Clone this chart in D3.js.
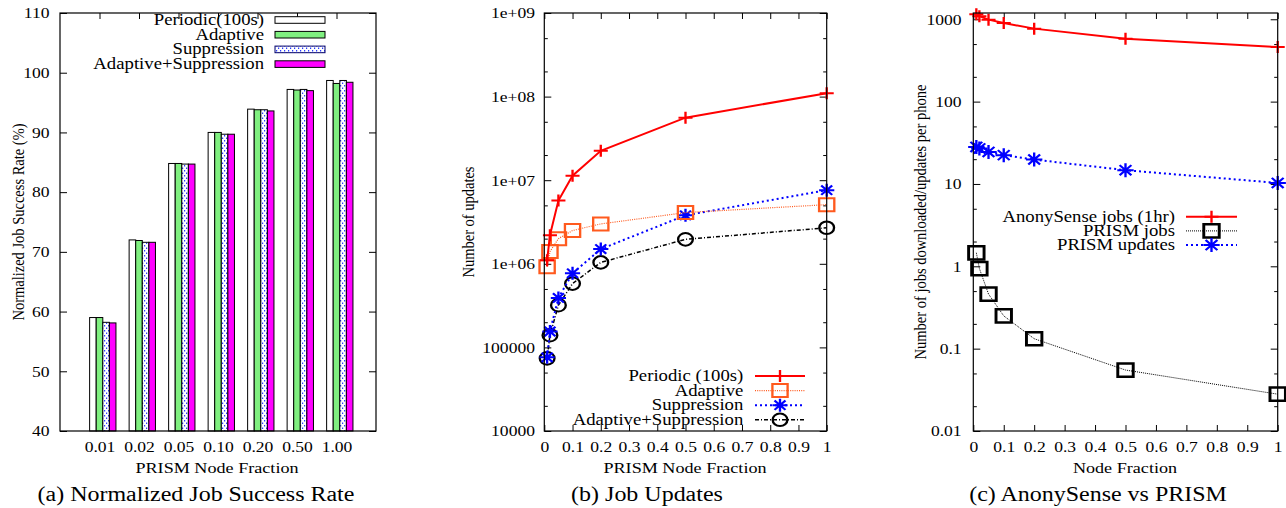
<!DOCTYPE html>
<html>
<head>
<meta charset="utf-8">
<script src="https://cdn.jsdelivr.net/npm/d3@7"></script>
<style>
  body { margin: 0; background: #fff; }
  svg { font-family: "Liberation Serif", "Times New Roman", serif; }
</style>
</head>
<body>
<div id="chart"></div>
<script>
// Node fractions (shared x values)
var fractions = [0.01, 0.02, 0.05, 0.1, 0.2, 0.5, 1.0];
var fractionLabels = ["0.01", "0.02", "0.05", "0.10", "0.20", "0.50", "1.00"];

// (a) Normalized job success rate (%)
var rateSeries = ["Periodic(100s)", "Adaptive", "Suppression", "Adaptive+Suppression"];
var ratePeriodic = [59.0, 72.0, 84.8, 90.0, 93.9, 97.2, 98.7];
var rateAdaptive = [59.0, 71.9, 84.8, 90.0, 93.8, 97.1, 98.2];
var rateSuppression = [58.2, 71.6, 84.7, 89.7, 93.8, 97.2, 98.7];
var rateAdaptSupp = [58.1, 71.6, 84.7, 89.7, 93.6, 97.0, 98.4];

// (b) Number of updates
var updPeriodic = [1.1e6, 2.2e6, 5.7e6, 1.13e7, 2.25e7, 5.6e7, 1.1e8];
var updAdaptive = [9.2e5, 1.4e6, 2.0e6, 2.5e6, 3.0e6, 4.1e6, 5.1e6];
var updSuppression = [7.6e4, 1.55e5, 3.9e5, 7.7e5, 1.5e6, 3.8e6, 7.6e6];
var updAdaptSupp = [7.4e4, 1.4e5, 3.2e5, 5.8e5, 1.04e6, 1.96e6, 2.7e6];
var updTicks = [1e4, 1e5, 1e6, 1e7, 1e8, 1e9];
var updTickLabels = ["10000", "100000", "1e+06", "1e+07", "1e+08", "1e+09"];

// (c) Jobs / updates per phone
var anonyJobs = [1150, 1090, 990, 900, 770, 580, 460];
var prismJobs = [1.46, 0.94, 0.46, 0.25, 0.132, 0.055, 0.028];
var prismUpdates = [28.2, 27, 24.5, 22.4, 19.8, 14.7, 10.3];
var perPhoneTicks = [0.01, 0.1, 1, 10, 100, 1000];
var perPhoneTickLabels = ["0.01", "0.1", "1", "10", "100", "1000"];

var xTicks = [0, 0.1, 0.2, 0.3, 0.4, 0.5, 0.6, 0.7, 0.8, 0.9, 1];

// Chart size
var width = 1286;
var height = 508;
var top0 = 13, bottom0 = 431;
var SX = 1.17; // the original figure is stretched horizontally

var svg = d3.select("#chart")
  .append("svg")
  .attr("width", width)
  .attr("height", height);

// dotted fill for the "Suppression" bars
var defs = svg.append("defs");
var pat = defs.append("pattern")
  .attr("id", "dots")
  .attr("patternUnits", "userSpaceOnUse")
  .attr("width", 4)
  .attr("height", 5);
pat.append("rect").attr("width", 4).attr("height", 5).attr("fill", "#fff");
pat.append("rect").attr("x", 0).attr("y", 0).attr("width", 1.2).attr("height", 1.5).attr("fill", "#2a3cff");
pat.append("rect").attr("x", 2).attr("y", 2.5).attr("width", 1.2).attr("height", 1.5).attr("fill", "#2a3cff");

// Helpers
function addText(x, y, s, size, anchor) {
  return svg.append("text")
    .attr("transform", "translate(" + x + "," + y + ") scale(" + SX + ",1)")
    .attr("text-anchor", anchor || "middle")
    .attr("font-size", size)
    .text(s);
}

function yTitle(x, s) {
  svg.append("text")
    .attr("transform", "translate(" + x + ",222) scale(" + SX + ",1) rotate(-90)")
    .attr("text-anchor", "middle")
    .attr("dy", "0.35em")
    .attr("font-size", 14.5)
    .text(s);
}

function styleAxis(g, pad) {
  g.select(".domain").remove();
  g.selectAll(".tick line").attr("stroke", "#000");
  g.selectAll(".tick text")
    .attr("font-size", 15)
    .attr("fill", "#000")
    .attr("font-family", "Liberation Serif, serif")
    .attr("transform", "scale(" + SX + ",1)");
}

function frame(x0, x1) {
  svg.append("rect")
    .attr("x", x0).attr("y", top0)
    .attr("width", x1 - x0).attr("height", bottom0 - top0)
    .attr("fill", "none").attr("stroke", "#000").attr("stroke-width", 1.2);
}

function markerPath(type, r) {
  var plus = "M" + (-r) + ",0H" + r + "M0," + (-r) + "V" + r;
  if (type === "plus") return plus;
  if (type === "star") {
    var d = r * 0.72;
    return plus + "M" + (-d) + "," + (-d) + "L" + d + "," + d + "M" + (-d) + "," + d + "L" + d + "," + (-d);
  }
  if (type === "square") return "M" + (-r) + "," + (-r) + "H" + r + "V" + r + "H" + (-r) + "Z";
  return "M" + (-r) + ",0A" + r + "," + r + " 0 1,0 " + r + ",0A" + r + "," + r + " 0 1,0 " + (-r) + ",0";
}

function drawMarker(x, y, st) {
  svg.append("path")
    .attr("d", markerPath(st.marker, st.size))
    .attr("transform", "translate(" + x + "," + y + ") scale(" + SX + ",1)")
    .attr("fill", "none")
    .attr("stroke", st.color)
    .attr("stroke-width", st.mwidth || 2);
}

function drawSeries(x, y, vals, st) {
  var pts = fractions.map(function (f, i) { return [x(f), y(vals[i])]; });
  svg.append("path")
    .attr("d", d3.line()(pts))
    .attr("fill", "none")
    .attr("stroke", st.color)
    .attr("stroke-width", st.width)
    .attr("stroke-dasharray", st.dash);
  pts.forEach(function (p) { drawMarker(p[0], p[1], st); });
}

function lineLegend(textX, lx0, lx1, y0, step, items) {
  items.forEach(function (it, i) {
    var y = y0 + i * step;
    addText(textX, y + 5, it.name, 16, "end");
    svg.append("line")
      .attr("x1", lx0).attr("x2", lx1).attr("y1", y).attr("y2", y)
      .attr("stroke", it.st.color)
      .attr("stroke-width", it.st.width)
      .attr("stroke-dasharray", it.st.dash);
    drawMarker((lx0 + lx1) / 2, y, it.st);
  });
}

function logAxes(x, y, x0, x1, minor, ticks, labels, pad) {
  var gl = svg.append("g").attr("transform", "translate(" + x0 + ",0)")
    .call(d3.axisLeft(y).tickValues(ticks).tickSize(-7).tickPadding(pad)
      .tickFormat(function (d, i) { return labels[i]; }));
  styleAxis(gl);
  var gr = svg.append("g").attr("transform", "translate(" + x1 + ",0)")
    .call(d3.axisRight(y).tickValues(ticks).tickSize(-7).tickFormat(""));
  styleAxis(gr);
  [x0, x1].forEach(function (xx, k) {
    var ax = k === 0 ? d3.axisLeft(y) : d3.axisRight(y);
    var gm = svg.append("g").attr("transform", "translate(" + xx + ",0)")
      .call(ax.tickValues(minor).tickSize(-3.5).tickFormat(""));
    styleAxis(gm);
  });
  var gb = svg.append("g").attr("transform", "translate(0," + bottom0 + ")")
    .call(d3.axisBottom(x).tickValues(xTicks).tickSize(-6).tickPadding(10).tickFormat(d3.format("")));
  styleAxis(gb);
  var gt = svg.append("g").attr("transform", "translate(0," + top0 + ")")
    .call(d3.axisTop(x).tickValues(xTicks).tickSize(-6).tickFormat(""));
  styleAxis(gt);
}

// ---------- Panel (a) ----------
var xA = d3.scaleLinear().domain([-1, 7]).range([60, 376]);
var yA = d3.scaleLinear().domain([40, 110]).range([bottom0, top0]);
var barW = (xA(1) - xA(0)) / 6;
var idx = d3.range(fractions.length);

var gAL = svg.append("g").attr("transform", "translate(60,0)")
  .call(d3.axisLeft(yA).tickValues(d3.range(40, 111, 10)).tickSize(-7).tickPadding(9));
styleAxis(gAL);
var gAR = svg.append("g").attr("transform", "translate(376,0)")
  .call(d3.axisRight(yA).tickValues(d3.range(40, 111, 10)).tickSize(-7).tickFormat(""));
styleAxis(gAR);
var gAB = svg.append("g").attr("transform", "translate(0," + bottom0 + ")")
  .call(d3.axisBottom(xA).tickValues(idx).tickSize(-6).tickPadding(10)
    .tickFormat(function (d) { return fractionLabels[d]; }));
styleAxis(gAB);
var gAT = svg.append("g").attr("transform", "translate(0," + top0 + ")")
  .call(d3.axisTop(xA).tickValues(idx).tickSize(-6).tickFormat(""));
styleAxis(gAT);

var barFills = ["#ffffff", "#80f080", "url(#dots)", "#ff00ff"];
[ratePeriodic, rateAdaptive, rateSuppression, rateAdaptSupp].forEach(function (vals, j) {
  svg.selectAll(null)
    .data(vals)
    .enter()
    .append("rect")
    .attr("x", function (d, i) { return xA(i) + (j - 1.5) * barW; })
    .attr("y", function (d) { return yA(d); })
    .attr("width", barW)
    .attr("height", function (d) { return bottom0 - yA(d); })
    .attr("fill", barFills[j])
    .attr("stroke", "#000")
    .attr("stroke-width", 1);
});

// legend (a)
rateSeries.forEach(function (name, j) {
  var y = 20 + j * 14.7;
  addText(264, y + 5, name, 16, "end");
  svg.append("rect")
    .attr("x", 275).attr("y", y - 3.3)
    .attr("width", 50).attr("height", 6.6)
    .attr("fill", barFills[j])
    .attr("stroke", j === 2 ? "#00006a" : "#000")
    .attr("stroke-width", 1);
});
frame(60, 376);
yTitle(18, "Normalized Job Success Rate (%)");
addText(217, 473, "PRISM Node Fraction", 15.5);
addText(196, 501, "(a) Normalized Job Success Rate", 20.5);

// ---------- Panel (b) ----------
var xB = d3.scaleLinear().domain([0, 1]).range([544.3, 826.7]);
var yB = d3.scaleLog().domain([1e4, 1e9]).range([bottom0, top0]);
var minorB = [];
[1e4, 1e5, 1e6, 1e7, 1e8].forEach(function (d) { minorB.push(2 * d, 5 * d); });
logAxes(xB, yB, 544.3, 826.7, minorB, updTicks, updTickLabels, 8);

var stPeriodic = { color: "#ff0000", width: 2, dash: null, marker: "plus", size: 6 };
var stAdaptive = { color: "#ff5a1e", width: 1.2, dash: "1,1.2", marker: "square", size: 6.5 };
var stSuppression = { color: "#0000ff", width: 2, dash: "2,3", marker: "star", size: 6.5 };
var stAdaptSupp = { color: "#000000", width: 1.5, dash: "4,2,1,2", marker: "circle", size: 6.3 };

drawSeries(xB, yB, updAdaptSupp, stAdaptSupp);
drawSeries(xB, yB, updSuppression, stSuppression);
drawSeries(xB, yB, updAdaptive, stAdaptive);
drawSeries(xB, yB, updPeriodic, stPeriodic);

lineLegend(743.3, 755, 805, 376, 14.6, [
  { name: "Periodic (100s)", st: stPeriodic },
  { name: "Adaptive", st: stAdaptive },
  { name: "Suppression", st: stSuppression },
  { name: "Adaptive+Suppression", st: stAdaptSupp }
]);
frame(544.3, 826.7);
yTitle(468, "Number of updates");
addText(685, 473, "PRISM Node Fraction", 15.5);
addText(647, 501, "(b) Job Updates", 20.5);

// ---------- Panel (c) ----------
var xC = d3.scaleLinear().domain([0, 1]).range([973.3, 1277.7]);
var yC = d3.scaleLog().domain([0.01, 1192]).range([bottom0, top0]);
var minorC = [];
[0.01, 0.1, 1, 10, 100].forEach(function (d) { minorC.push(2 * d, 5 * d); });
logAxes(xC, yC, 973.3, 1277.7, minorC, perPhoneTicks, perPhoneTickLabels, 10);

var stAnony = { color: "#ff0000", width: 2, dash: null, marker: "plus", size: 6 };
var stJobs = { color: "#000000", width: 1, dash: "1,1", marker: "square", size: 6.6, mwidth: 2.5 };
var stUpdates = { color: "#0000ff", width: 2, dash: "2,3", marker: "star", size: 7 };

drawSeries(xC, yC, prismJobs, stJobs);
drawSeries(xC, yC, prismUpdates, stUpdates);
drawSeries(xC, yC, anonyJobs, stAnony);

lineLegend(1175, 1186, 1237, 216.7, 14.2, [
  { name: "AnonySense jobs (1hr)", st: stAnony },
  { name: "PRISM jobs", st: stJobs },
  { name: "PRISM updates", st: stUpdates }
]);
frame(973.3, 1277.7);
yTitle(920, "Number of jobs downloaded/updates per phone");
addText(1125, 473, "Node Fraction", 15.5);
addText(1098, 501, "(c) AnonySense vs PRISM", 20.5);
</script>
</body>
</html>
